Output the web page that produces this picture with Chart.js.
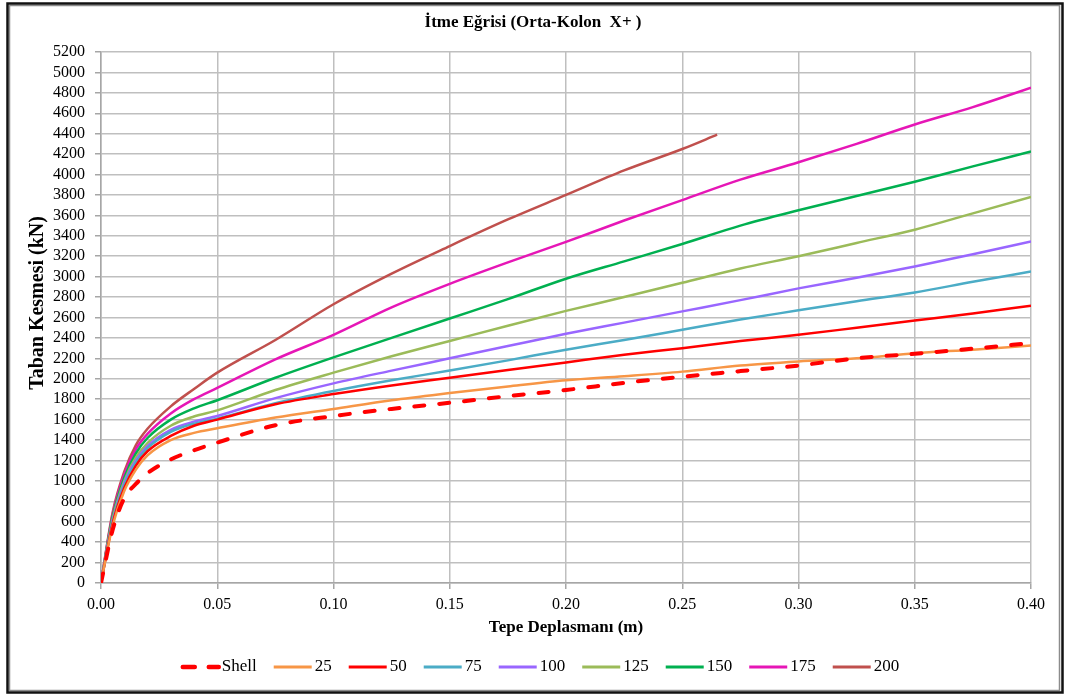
<!DOCTYPE html>
<html>
<head>
<meta charset="utf-8">
<script src="https://cdn.jsdelivr.net/npm/chart.js@4.4.1/dist/chart.umd.min.js"></script>
<style>
  html, body { margin: 0; padding: 0; background: #ffffff; }
  canvas { display: block; }
</style>
</head>
<body>
<canvas id="chart" width="1066" height="697"></canvas>
<script>
// Top displacement (m) at which base shear is sampled
const displacement = [0, 0.005, 0.01, 0.015, 0.02, 0.03, 0.04, 0.05, 0.075, 0.1, 0.125, 0.15, 0.175, 0.2, 0.225, 0.25, 0.275, 0.3, 0.325, 0.35, 0.375, 0.4];
// the 200 model stops earlier
const displacement200 = [0, 0.005, 0.01, 0.015, 0.02, 0.03, 0.04, 0.05, 0.075, 0.1, 0.125, 0.15, 0.175, 0.2, 0.225, 0.25, 0.265];

// Base shear (kN) per model
const shell = [0, 520, 830, 970, 1075, 1210, 1300, 1375, 1545, 1635, 1705, 1765, 1830, 1890, 1960, 2020, 2075, 2130, 2200, 2245, 2295, 2350];
const s25   = [0, 560, 900, 1110, 1250, 1400, 1470, 1515, 1620, 1705, 1790, 1860, 1925, 1985, 2025, 2070, 2130, 2170, 2200, 2250, 2285, 2325];
const s50   = [0, 580, 930, 1150, 1290, 1440, 1540, 1600, 1750, 1850, 1935, 2010, 2085, 2160, 2235, 2300, 2370, 2430, 2500, 2570, 2640, 2715];
const s75   = [0, 600, 960, 1180, 1320, 1480, 1560, 1610, 1760, 1880, 1985, 2080, 2180, 2285, 2380, 2480, 2580, 2670, 2760, 2845, 2950, 3050];
const s100  = [0, 610, 980, 1200, 1340, 1500, 1580, 1635, 1810, 1955, 2080, 2200, 2320, 2440, 2550, 2660, 2770, 2885, 2990, 3100, 3220, 3345];
const s125  = [0, 630, 1000, 1230, 1370, 1540, 1630, 1690, 1890, 2060, 2220, 2370, 2520, 2665, 2800, 2940, 3080, 3200, 3330, 3460, 3620, 3780];
const s150  = [0, 650, 1030, 1270, 1420, 1600, 1710, 1790, 2010, 2210, 2400, 2590, 2780, 2980, 3150, 3320, 3500, 3650, 3790, 3930, 4080, 4225];
const s175  = [0, 670, 1060, 1310, 1460, 1660, 1800, 1910, 2190, 2430, 2700, 2930, 3140, 3340, 3550, 3750, 3950, 4120, 4300, 4490, 4660, 4850];
const s200  = [0, 690, 1090, 1350, 1510, 1730, 1900, 2060, 2380, 2730, 3030, 3300, 3560, 3800, 4040, 4250, 4390];

const seriesLabels = ['Shell', '25', '50', '75', '100', '125', '150', '175', '200'];
const seriesColors = ['#ff0000', '#f79646', '#ff0000', '#4bacc6', '#9966ff', '#9bbb59', '#00b050', '#e616b6', '#c0504d'];
const seriesValues = [shell, s25, s50, s75, s100, s125, s150, s175, s200];
const seriesX      = [displacement, displacement, displacement, displacement, displacement, displacement, displacement, displacement, displacement200];

const TITLE = 'İtme Eğrisi (Orta-Kolon  X+ )';
const X_TITLE = 'Tepe Deplasmanı (m)';
const Y_TITLE = 'Taban Kesmesi (kN)';
const SERIF = '"Liberation Serif", "Times New Roman", serif';

const datasets = seriesLabels.map((label, i) => {
  const isShell = label === 'Shell';
  return {
    label,
    data: seriesValues[i].map((v, k) => ({ x: seriesX[i][k], y: v })),
    borderColor: seriesColors[i],
    backgroundColor: seriesColors[i],
    borderWidth: isShell ? 4 : 2.5,
    borderDash: isShell ? [10, 15] : [],
    borderCapStyle: isShell ? 'round' : 'butt',
    pointRadius: 0,
    cubicInterpolationMode: 'monotone',
    fill: false
  };
});

// Legend row under the x axis title: line sample + label per series
function drawLegend(chart) {
  const ctx = chart.ctx;
  const lineLen = 38, textGap = 3, itemGap = 17, y = 667, centerX = 540;
  ctx.save();
  ctx.font = '17px ' + SERIF;
  const widths = chart.data.datasets.map(ds => lineLen + textGap + ctx.measureText(ds.label).width);
  const total = widths.reduce((a, b) => a + b, 0) + itemGap * (widths.length - 1);
  let x = centerX - total / 2;
  chart.data.datasets.forEach((ds, i) => {
    ctx.beginPath();
    ctx.strokeStyle = ds.borderColor;
    ctx.lineWidth = ds.borderWidth === 4 ? 4.5 : 3;
    ctx.lineCap = ds.borderCapStyle;
    ctx.setLineDash(ds.borderDash.length ? [12, 14] : []);
    ctx.moveTo(x + (ds.borderDash.length ? 2 : 0), y);
    ctx.lineTo(x + lineLen, y);
    ctx.stroke();
    ctx.setLineDash([]);
    ctx.fillStyle = '#000000';
    ctx.textAlign = 'left';
    ctx.textBaseline = 'middle';
    ctx.fillText(ds.label, x + lineLen + textGap, y);
    x += widths[i] + itemGap;
  });
  ctx.restore();
}

const frameAndTitles = {
  id: 'frameAndTitles',
  beforeDraw(chart) {
    const ctx = chart.ctx;
    ctx.save();
    ctx.fillStyle = '#ffffff';
    ctx.fillRect(0, 0, chart.width, chart.height);
    ctx.restore();
  },
  afterDraw(chart) {
    const ctx = chart.ctx;
    ctx.save();
    // outer frame
    ctx.strokeStyle = '#8c8c8c';
    ctx.lineWidth = 1.5;
    ctx.strokeRect(9.5, 5.5, 1050, 685);
    ctx.strokeStyle = '#111111';
    ctx.lineWidth = 2.5;
    ctx.strokeRect(7.5, 3.5, 1055, 689);

    ctx.fillStyle = '#000000';
    ctx.textAlign = 'center';
    ctx.textBaseline = 'middle';
    ctx.font = 'bold 17px ' + SERIF;
    ctx.fillText(TITLE, 533, 23);
    ctx.fillText(X_TITLE, 566, 628);
    ctx.font = 'bold 20px ' + SERIF;
    ctx.translate(38, 303);
    ctx.rotate(-Math.PI / 2);
    ctx.fillText(Y_TITLE, 0, 0);
    ctx.restore();

    drawLegend(chart);
  }
};

new Chart(document.getElementById('chart'), {
  type: 'line',
  data: { datasets },
  plugins: [frameAndTitles],
  options: {
    responsive: false,
    animation: false,
    devicePixelRatio: 1,
    layout: { padding: { left: 0, right: 35, top: 52, bottom: 55 } },
    plugins: {
      title: { display: false },
      tooltip: { enabled: false },
      legend: { display: false }
    },
    scales: {
      x: {
        type: 'linear',
        min: 0,
        max: 0.4,
        afterFit(scale) { scale.height = 59; },
        ticks: {
          stepSize: 0.05,
          padding: 6,
          autoSkip: false,
          color: '#000000',
          font: { family: SERIF, size: 16 },
          maxRotation: 0,
          callback: (v) => Number(v).toFixed(2)
        },
        grid: { color: '#bfbfbf', lineWidth: 1.5, tickLength: 6, tickColor: '#a6a6a6' },
        border: { color: '#a6a6a6', width: 1.5 }
      },
      y: {
        min: 0,
        max: 5200,
        afterFit(scale) { scale.width = 101; },
        ticks: {
          stepSize: 200,
          padding: 10,
          autoSkip: false,
          color: '#000000',
          font: { family: SERIF, size: 16 },
          callback: (v) => String(v)
        },
        grid: { color: '#bfbfbf', lineWidth: 1.5, tickLength: 6, tickColor: '#a6a6a6' },
        border: { color: '#a6a6a6', width: 1.5 }
      }
    }
  }
});
</script>
</body>
</html>
